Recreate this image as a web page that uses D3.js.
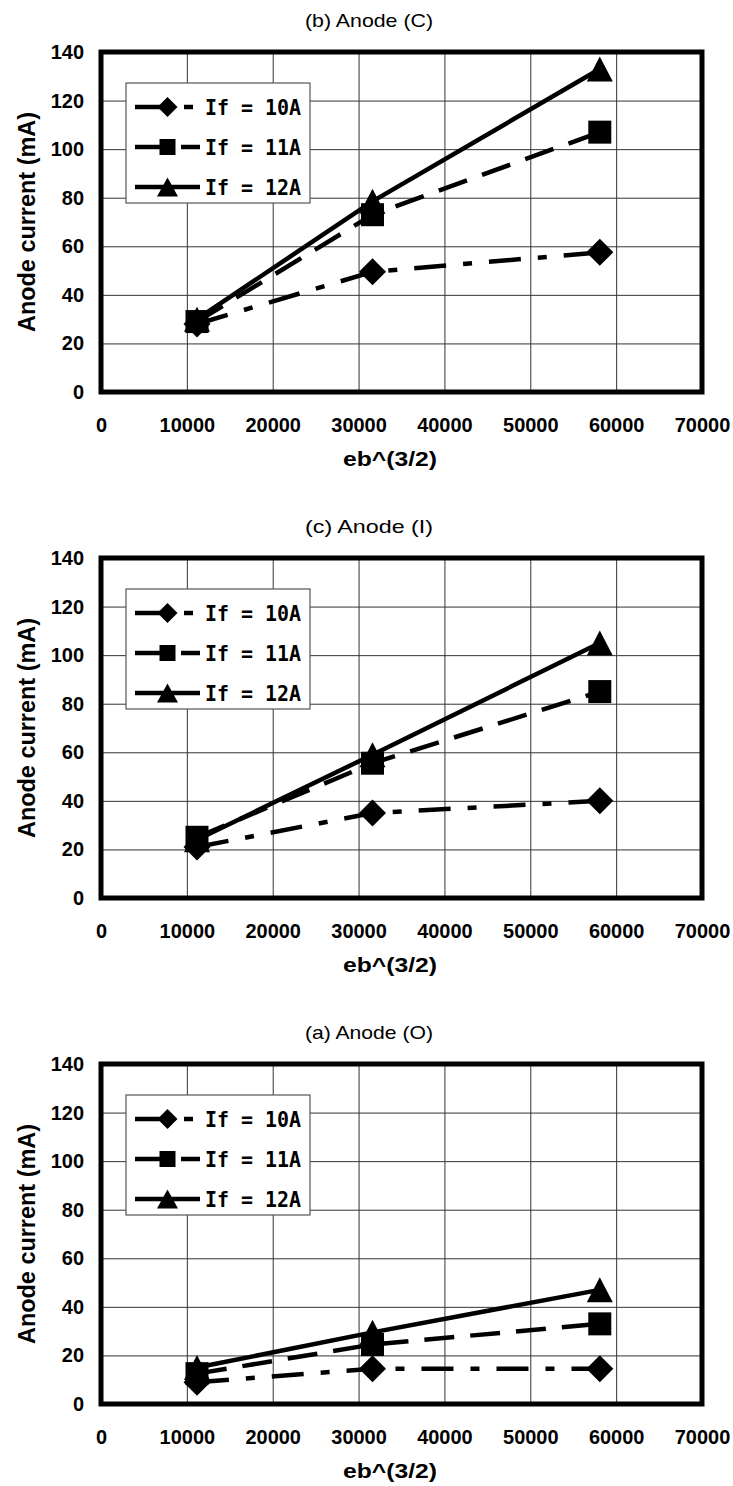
<!DOCTYPE html>
<html>
<head>
<meta charset="utf-8">
<script src="https://cdn.jsdelivr.net/npm/d3@7"></script>
<style>
  body { margin: 0; background: #fff; }
  svg { display: block; }
</style>
</head>
<body>
<div id="chart"></div>
<script>
// eb^(3/2) for eb = 500, 1000, 1500 V
const ebValues = [11180, 31623, 58095];
const seriesNames = ["If = 10A", "If = 11A", "If = 12A"];
const panelTitles = ["(b) Anode (C)", "(c) Anode (I)", "(a) Anode (O)"];
const xTicks = [0, 10000, 20000, 30000, 40000, 50000, 60000, 70000];
const yTicks = [0, 20, 40, 60, 80, 100, 120, 140];

// anode current (mA), one row per filament current
const anodeC = [[28, 49.5, 57.5], [29, 73, 107], [30, 78.5, 133]];
const anodeI = [[21, 35, 40], [25, 55.5, 85], [24, 59, 105]];
const anodeO = [[9, 14.5, 14.5], [12.5, 24.5, 33], [15, 29.5, 47]];

const panels = [anodeC, anodeI, anodeO];

const width = 733, height = 1486;
const plotH = 340;
const panelTops = [52, 558, 1064];
const dashes = ["32,17,9,17", "30,16", null];
const markerKind = ["diamond", "square", "triangle"];
const sansFont = "'Liberation Sans', Arial, sans-serif";
const monoFont = "'DejaVu Sans Mono', monospace";

const svg = d3.select("#chart").append("svg")
    .attr("width", width)
    .attr("height", height)
    .style("background", "#fff");

const x = d3.scaleLinear().domain([0, 70000]).range([101, 702]);
const y = d3.scaleLinear().domain([0, 140]).range([plotH, 0]);

function markerPath(kind, big) {
    if (kind === "diamond") {
        let r = big ? 13.5 : 10;
        return `M0,${-r}L${r},0L0,${r}L${-r},0Z`;
    }
    if (kind === "square") {
        let s = big ? 11.5 : 8;
        return `M${-s},${-s}H${s}V${s}H${-s}Z`;
    }
    let w = big ? 13 : 10.5, h = big ? 12.5 : 9.5;
    return `M0,${-h}L${w},${h}L${-w},${h}Z`;
}

// tall narrow digits like the original gothic font
function styleTicks(sel) {
    sel.attr("font-family", sansFont).attr("font-weight", "bold").attr("font-size", 20.5)
        .attr("fill", "#000")
        .attr("lengthAdjust", "spacingAndGlyphs")
        .attr("textLength", function() { return this.textContent.length * 11.1; });
}

function drawPanel(top, title, values) {
    let g = svg.append("g").attr("transform", `translate(0,${top})`);

    // grid
    g.append("g")
        .attr("transform", `translate(0,${plotH})`)
        .call(d3.axisBottom(x).tickValues(xTicks.slice(1, -1)).tickSize(-plotH).tickFormat(""))
        .call(a => a.select(".domain").remove())
        .selectAll("line").attr("stroke", "#333").attr("stroke-width", 1);
    g.append("g")
        .attr("transform", `translate(${x(0)},0)`)
        .call(d3.axisLeft(y).tickValues(yTicks.slice(1, -1)).tickSize(-(x(70000) - x(0))).tickFormat(""))
        .call(a => a.select(".domain").remove())
        .selectAll("line").attr("stroke", "#333").attr("stroke-width", 1);

    // series lines
    let line = d3.line().x((d, i) => x(ebValues[i])).y(d => y(d));
    values.forEach((vals, s) => {
        g.append("path")
            .datum(vals)
            .attr("d", line)
            .attr("fill", "none")
            .attr("stroke", "#000")
            .attr("stroke-width", 4.5)
            .attr("stroke-dasharray", dashes[s]);
    });

    // frame
    g.append("rect")
        .attr("x", x(0)).attr("y", y(140))
        .attr("width", x(70000) - x(0)).attr("height", y(0) - y(140))
        .attr("fill", "none").attr("stroke", "#000").attr("stroke-width", 5);

    // markers
    values.forEach((vals, s) => {
        g.selectAll(null)
            .data(vals)
            .enter()
            .append("path")
            .attr("transform", (d, i) => `translate(${x(ebValues[i])},${y(d)})`)
            .attr("d", markerPath(markerKind[s], true))
            .attr("fill", "#000");
    });

    // x tick labels
    g.append("g")
        .attr("transform", `translate(0,${plotH})`)
        .call(d3.axisBottom(x).tickValues(xTicks).tickSize(0).tickFormat(d3.format("d")))
        .call(a => a.select(".domain").remove())
        .selectAll("text")
        .attr("y", 40).attr("dy", null)
        .call(styleTicks);

    // y tick labels
    g.append("g")
        .attr("transform", `translate(${x(0)},0)`)
        .call(d3.axisLeft(y).tickValues(yTicks).tickSize(0).tickPadding(17))
        .call(a => a.select(".domain").remove())
        .selectAll("text")
        .call(styleTicks);

    // titles
    g.append("text")
        .attr("x", 369).attr("y", -25)
        .attr("text-anchor", "middle")
        .attr("font-family", sansFont).attr("font-size", 19)
        .attr("textLength", 128).attr("lengthAdjust", "spacingAndGlyphs")
        .text(title);
    g.append("text")
        .attr("x", 390).attr("y", plotH + 74)
        .attr("text-anchor", "middle")
        .attr("font-family", sansFont).attr("font-weight", "bold").attr("font-size", 21)
        .attr("textLength", 94).attr("lengthAdjust", "spacingAndGlyphs")
        .text("eb^(3/2)");
    g.append("text")
        .attr("transform", `translate(35,${plotH / 2}) rotate(-90)`)
        .attr("text-anchor", "middle")
        .attr("font-family", sansFont).attr("font-weight", "bold").attr("font-size", 23)
        .attr("textLength", 220).attr("lengthAdjust", "spacingAndGlyphs")
        .text("Anode current (mA)");

    // legend
    let lg = g.append("g");
    lg.append("rect")
        .attr("x", 126).attr("y", 31).attr("width", 184).attr("height", 120)
        .attr("fill", "#fff").attr("stroke", "#555").attr("stroke-width", 1.2);
    seriesNames.forEach((name, s) => {
        let cy = 55 + s * 40;
        lg.append("line")
            .attr("x1", 135).attr("x2", 200).attr("y1", cy).attr("y2", cy)
            .attr("stroke", "#000").attr("stroke-width", 4.5)
            .attr("stroke-dasharray", dashes[s]);
        lg.append("path")
            .attr("transform", `translate(167.5,${cy})`)
            .attr("d", markerPath(markerKind[s], false))
            .attr("fill", "#000");
        lg.append("text")
            .attr("x", 205).attr("y", cy + 7.5)
            .attr("font-family", monoFont).attr("font-weight", "bold").attr("font-size", 20.5)
            .attr("textLength", 96).attr("lengthAdjust", "spacingAndGlyphs")
            .text(name);
    });
}

panels.forEach((vals, p) => drawPanel(panelTops[p], panelTitles[p], vals));
</script>
</body>
</html>
